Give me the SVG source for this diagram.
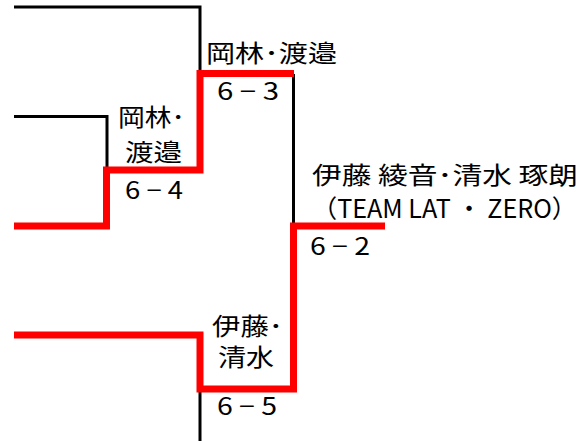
<svg xmlns="http://www.w3.org/2000/svg" width="584" height="441" viewBox="0 0 584 441">
<style>
.blk{fill:none;stroke:#000;stroke-width:3}
.red{fill:none;stroke:#ff0000;stroke-width:7;stroke-linejoin:miter}
text{font-family:"Noto Sans CJK JP","Noto Sans",sans-serif;font-size:24px;fill:#000}
.lat{font-size:25px}
</style>
<rect width="584" height="441" fill="#fff"/>
<g id="connectors">
<path class="blk" d="M14,7 H200 V74"/>
<path class="blk" d="M14,116.5 H107 V170"/>
<path class="blk" d="M293.5,74 V226"/>
<path class="blk" d="M200,389 V441"/>
<path class="red" d="M14,226 H106.5 V170 H200 V73.5 H294"/>
<path class="red" d="M14,335 H200 V389 H293.5 V226 H385"/>
</g>
<g id="node-semi1">
<text x="118" y="126" textLength="67" lengthAdjust="spacingAndGlyphs">岡林･</text>
<text x="125" y="161" textLength="57" lengthAdjust="spacingAndGlyphs">渡邉</text>
<text x="125" y="199" textLength="58" lengthAdjust="spacingAndGlyphs">6 − 4</text>
</g>
<g id="node-semi2">
<text x="206" y="62" textLength="131" lengthAdjust="spacingAndGlyphs">岡林･渡邉</text>
<text x="217" y="100" textLength="62" lengthAdjust="spacingAndGlyphs">6 − 3</text>
</g>
<g id="node-semi3">
<text x="212" y="335" textLength="71" lengthAdjust="spacingAndGlyphs">伊藤･</text>
<text x="218" y="366" textLength="56" lengthAdjust="spacingAndGlyphs">清水</text>
<text x="217" y="415" textLength="60" lengthAdjust="spacingAndGlyphs">6 − 5</text>
</g>
<g id="node-final">
<text x="312" y="184" textLength="266" lengthAdjust="spacingAndGlyphs">伊藤 綾音･清水 琢朗</text>
<text class="lat" x="312" y="218" textLength="265" lengthAdjust="spacingAndGlyphs">（TEAM LAT ・ ZERO）</text>
<text x="310" y="255" textLength="60" lengthAdjust="spacingAndGlyphs">6 − 2</text>
</g>
</svg>
